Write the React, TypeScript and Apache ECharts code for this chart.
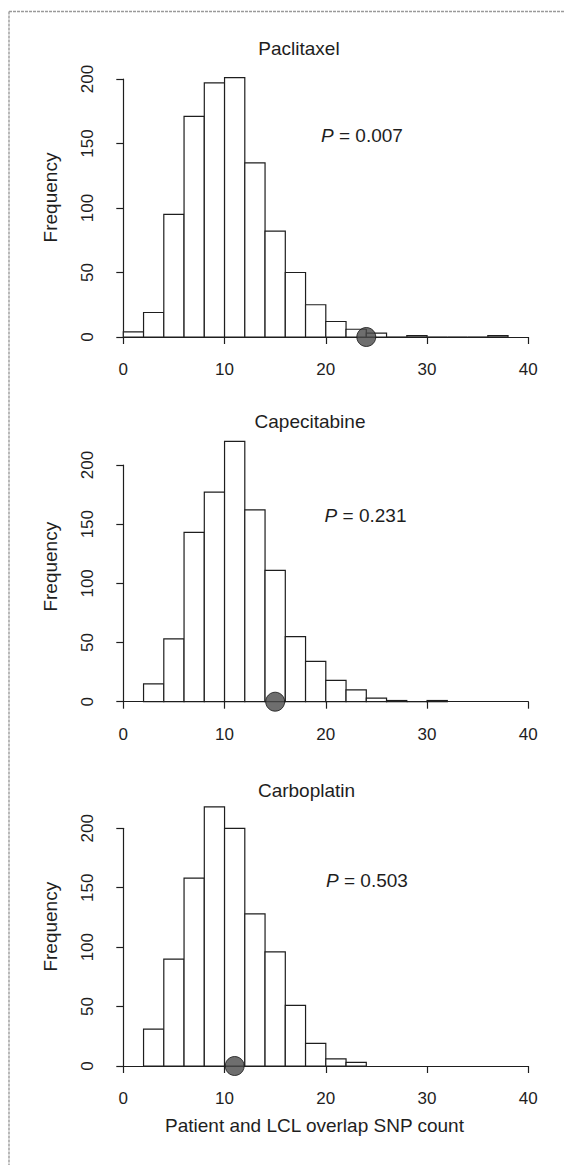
import React, { useEffect, useRef } from "react";
import * as echarts from "echarts";

// ---- data ----
const binWidth = 2;
const panelTitles = ["Paclitaxel", "Capecitabine", "Carboplatin"];
const binStarts = [0, 2, 2];
const paclitaxelCounts = [4, 19, 95, 171, 197, 201, 135, 82, 50, 25, 12, 6, 3, 0, 1, 0, 0, 0, 1];
const capecitabineCounts = [15, 53, 143, 177, 220, 162, 111, 55, 34, 18, 10, 3, 1, 0, 1];
const carboplatinCounts = [31, 90, 158, 218, 200, 128, 96, 51, 19, 6, 3];
const observedCounts = [24, 15, 11];
const pValues = ["0.007", "0.231", "0.503"];
const xTicks = { min: 0, max: 40, interval: 10 };
const yTicks = { min: 0, max: 200, interval: 50 };
const xAxisTitle = "Patient and LCL overlap SNP count";
const yAxisTitle = "Frequency";

const allCounts = [paclitaxelCounts, capecitabineCounts, carboplatinCounts];

// ---- layout ----
const FONT = "'Liberation Sans', Arial, Helvetica, sans-serif";
const INK = "#1e1e1e";
const gridLeft = 123.3;
const gridRight = 564 - 528.3;
const grids = [
  { top: 79, height: 258 },
  { top: 465, height: 236.7 },
  { top: 828.3, height: 237.7 },
];
const titlePos = [
  [299, 48],
  [310, 421.7],
  [306.5, 790.7],
];
const pPos = [
  [321, 135],
  [324.6, 515],
  [326, 880],
];
const freqX = 50;
const freqY = [197.5, 566.7, 926.7];

export default function App() {
  const ref = useRef<HTMLDivElement>(null);

  useEffect(() => {
    if (!ref.current) return;
    const chart = echarts.init(ref.current, null, { renderer: "svg" });

    const grid = grids.map((g) => ({
      left: gridLeft,
      right: gridRight,
      top: g.top,
      height: g.height,
      containLabel: false,
    }));

    const xAxis = grids.map((_, i) => ({
      type: "value",
      gridIndex: i,
      min: xTicks.min,
      max: xTicks.max,
      interval: xTicks.interval,
      offset: 11,
      axisLine: { show: true, lineStyle: { color: INK, width: 1.2 } },
      axisTick: { show: true, length: 7, lineStyle: { color: INK, width: 1.2 } },
      axisLabel: { color: INK, fontSize: 17, fontFamily: FONT, margin: 13 },
      splitLine: { show: false },
    }));

    const yAxis = grids.map((_, i) => ({
      type: "value",
      gridIndex: i,
      min: yTicks.min,
      max: yTicks.max,
      interval: yTicks.interval,
      offset: 16,
      axisLine: { show: true, lineStyle: { color: INK, width: 1.2 } },
      axisTick: { show: true, length: 7, lineStyle: { color: INK, width: 1.2 } },
      axisLabel: { color: INK, fontSize: 17, fontFamily: FONT, margin: 11, rotate: 90 },
      splitLine: { show: false },
    }));

    const series: any[] = [];
    allCounts.forEach((counts, i) => {
      const data = counts.map((c, k) => {
        const x0 = binStarts[i] + k * binWidth;
        return [x0, x0 + binWidth, c];
      });
      series.push({
        type: "custom",
        xAxisIndex: i,
        yAxisIndex: i,
        clip: false,
        encode: { x: [0, 1], y: 2 },
        data,
        renderItem: (params: any, api: any) => {
          const x0 = api.value(0);
          const x1 = api.value(1);
          const c = api.value(2);
          const pTop = api.coord([x0, c]);
          const pBot = api.coord([x1, 0]);
          if (c === 0) {
            return {
              type: "line",
              shape: { x1: pTop[0], y1: pBot[1], x2: pBot[0], y2: pBot[1] },
              style: { stroke: INK, lineWidth: 1.2 },
            };
          }
          return {
            type: "rect",
            shape: {
              x: pTop[0],
              y: pTop[1],
              width: pBot[0] - pTop[0],
              height: pBot[1] - pTop[1],
            },
            style: { fill: "#ffffff", stroke: INK, lineWidth: 1.2 },
          };
        },
        z: 2,
      });
      series.push({
        type: "scatter",
        xAxisIndex: i,
        yAxisIndex: i,
        clip: false,
        symbol: "circle",
        symbolSize: 19,
        data: [[observedCounts[i], 0]],
        itemStyle: { color: "#4a4a4a", borderColor: "#151515", borderWidth: 1 },
        z: 5,
      });
    });

    const graphic: any[] = [];
    // scan border (top and left)
    graphic.push({
      type: "line",
      shape: { x1: 9, y1: 11.5, x2: 564, y2: 11.5 },
      style: { stroke: "#9a9a9a", lineWidth: 1.4, lineDash: [3, 1] },
    });
    graphic.push({
      type: "line",
      shape: { x1: 9, y1: 11.5, x2: 9, y2: 1165 },
      style: { stroke: "#9a9a9a", lineWidth: 1.4, lineDash: [3, 1] },
    });
    panelTitles.forEach((t, i) => {
      graphic.push({
        type: "text",
        x: titlePos[i][0],
        y: titlePos[i][1],
        style: {
          text: t,
          fill: INK,
          font: `19px ${FONT}`,
          align: "center",
          verticalAlign: "middle",
        },
      });
      graphic.push({
        type: "text",
        x: pPos[i][0],
        y: pPos[i][1],
        style: {
          text: `{i|P} = ${pValues[i]}`,
          fill: INK,
          font: `19px ${FONT}`,
          align: "left",
          verticalAlign: "middle",
          rich: {
            i: { fontStyle: "italic", fontSize: 19, fontFamily: FONT, fill: INK },
          },
        },
      });
      graphic.push({
        type: "text",
        x: freqX,
        y: freqY[i],
        rotation: Math.PI / 2,
        style: {
          text: yAxisTitle,
          fill: INK,
          font: `19px ${FONT}`,
          align: "center",
          verticalAlign: "middle",
        },
      });
    });
    graphic.push({
      type: "text",
      x: 314.5,
      y: 1125,
      style: {
        text: xAxisTitle,
        fill: INK,
        font: `19px ${FONT}`,
        align: "center",
        verticalAlign: "middle",
      },
    });

    chart.setOption({
      animation: false,
      backgroundColor: "#ffffff",
      grid,
      xAxis,
      yAxis,
      series,
      graphic,
    });

    return () => chart.dispose();
  }, []);

  return (
    <div
      ref={ref}
      style={{ position: "fixed", left: 0, top: 0, width: 564, height: 1165, background: "#fff" }}
    />
  );
}
